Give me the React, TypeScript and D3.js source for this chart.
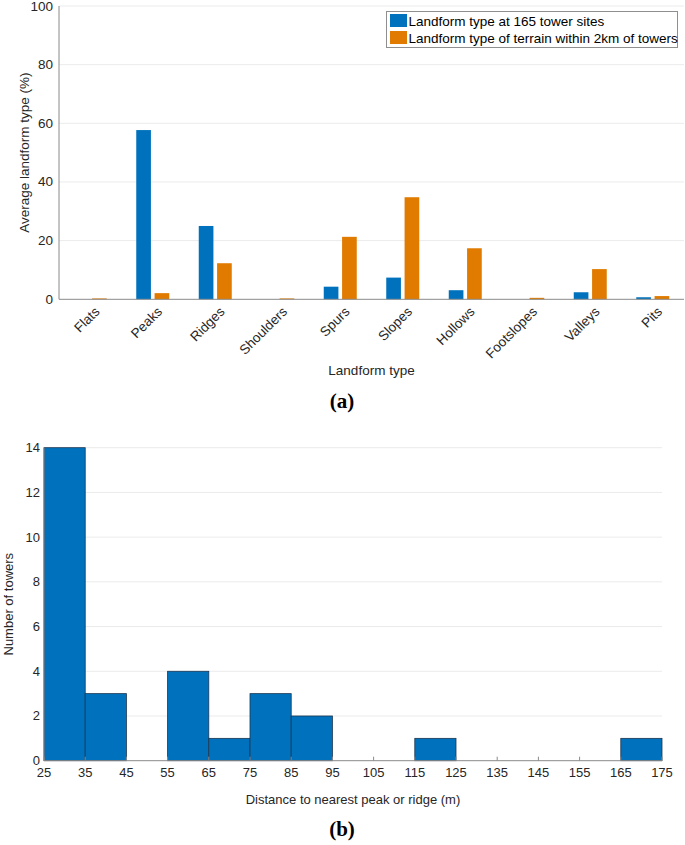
import * as d3 from 'd3';

const W = 685;
const H = 845;

// panel (a) data
const landforms = ['Flats', 'Peaks', 'Ridges', 'Shoulders', 'Spurs', 'Slopes', 'Hollows', 'Footslopes', 'Valleys', 'Pits'];
const towerSites = [0, 57.7, 25.0, 0, 4.3, 7.4, 3.1, 0, 2.4, 0.7];
const terrain2km = [0.3, 2.1, 12.3, 0.3, 21.3, 34.8, 17.4, 0.5, 10.3, 1.1];
const seriesNames = ['Landform type at 165 tower sites', 'Landform type of terrain within 2km of towers'];
const yTicksA = [0, 20, 40, 60, 80, 100];

// panel (b) data
const binStarts = [25, 35, 45, 55, 65, 75, 85, 95, 105, 115, 125, 135, 145, 155, 165];
const binCounts = [14, 3, 0, 4, 1, 3, 2, 0, 0, 1, 0, 0, 0, 0, 1];
const binWidth = 10;
const xTicksB = [25, 35, 45, 55, 65, 75, 85, 95, 105, 115, 125, 135, 145, 155, 165, 175];
const yTicksB = [0, 2, 4, 6, 8, 10, 12, 14];

const BLUE = '#0072BD';
const ORANGE = '#E07B00';
const FONT = '"Liberation Sans", Arial, Helvetica, sans-serif';
const TXT = '#262626';
const AXIS = '#8a8a8a';
const GRID = '#ebebeb';

const A = { left: 59, right: 684, top: 6, bottom: 299.3 };
const B = { left: 44, right: 662, top: 447.7, bottom: 760.7 };

const PanelA = () => {
  const x = d3.scaleBand().domain(landforms).range([A.left, A.right]).padding(0);
  const sub = d3.scaleBand().domain(['0', '1']).range([-16.5, 16.5]).paddingInner(0.2);
  const y = d3.scaleLinear().domain([0, 100]).range([A.bottom, A.top]);
  const cx = (c: string) => (x(c) as number) + x.bandwidth() / 2;

  return (
    <g>
      {yTicksA.map((t) => (
        <g key={t}>
          {t > 0 && <line x1={A.left} x2={A.right} y1={y(t)} y2={y(t)} stroke={GRID} strokeWidth={1} />}
          <text x={A.left - 6} y={y(t)} textAnchor="end" dominantBaseline="central" fontSize={13.5} fill={TXT}>
            {t}
          </text>
        </g>
      ))}
      {landforms.map((c, i) => (
        <g key={c}>
          {[towerSites[i], terrain2km[i]].map((v, j) =>
            v > 0 ? (
              <rect
                key={j}
                x={cx(c) + (sub(String(j)) as number)}
                y={y(v)}
                width={sub.bandwidth()}
                height={y(0) - y(v)}
                fill={j === 0 ? BLUE : ORANGE}
              />
            ) : null,
          )}
          <text
            transform={`translate(${cx(c) + 7},${A.bottom + 10}) rotate(-45)`}
            textAnchor="end"
            dominantBaseline="central"
            fontSize={13.5}
            fill={TXT}
          >
            {c}
          </text>
        </g>
      ))}
      <line x1={A.left} x2={A.left} y1={A.top} y2={A.bottom} stroke={AXIS} />
      <line x1={A.left} x2={A.right} y1={A.bottom} y2={A.bottom} stroke={AXIS} />
      <text
        transform={`translate(24,${(A.top + A.bottom) / 2}) rotate(-90)`}
        textAnchor="middle"
        dominantBaseline="central"
        fontSize={13.5}
        fill={TXT}
      >
        Average landform type (%)
      </text>
      <text x={(A.left + A.right) / 2} y={370} textAnchor="middle" dominantBaseline="central" fontSize={13.5} fill={TXT}>
        Landform type
      </text>
      {/* legend */}
      <rect x={386.5} y={11.5} width={291} height={36} fill="#fff" stroke="#8f8f8f" />
      {seriesNames.map((s, i) => (
        <g key={s}>
          <rect x={390} y={14 + i * 17} width={17} height={13} fill={i === 0 ? BLUE : ORANGE} />
          <text x={408.5} y={21 + i * 17} dominantBaseline="central" fontSize={13.5} fill="#000">
            {s}
          </text>
        </g>
      ))}
      <text x={342} y={401} textAnchor="middle" dominantBaseline="central" fontSize={21} fontWeight="bold" fontFamily='"Liberation Serif", "Times New Roman", serif'>
        (a)
      </text>
    </g>
  );
};

const PanelB = () => {
  const x = d3.scaleLinear().domain([25, 175]).range([B.left, B.right]);
  const y = d3.scaleLinear().domain([0, 14]).range([B.bottom, B.top]);

  return (
    <g>
      {yTicksB.map((t) => (
        <g key={t}>
          {t > 0 && <line x1={B.left} x2={B.right} y1={y(t)} y2={y(t)} stroke={GRID} strokeWidth={1} />}
          <text x={B.left - 4} y={y(t)} textAnchor="end" dominantBaseline="central" fontSize={13} fill={TXT}>
            {t}
          </text>
        </g>
      ))}
      {binStarts.map((s, i) =>
        binCounts[i] > 0 ? (
          <rect
            key={s}
            x={x(s)}
            y={y(binCounts[i])}
            width={x(s + binWidth) - x(s)}
            height={y(0) - y(binCounts[i])}
            fill={BLUE}
            stroke="#1c3550"
            strokeWidth={0.8}
          />
        ) : null,
      )}
      <line x1={B.left} x2={B.left} y1={B.top} y2={B.bottom} stroke={AXIS} />
      <line x1={B.left} x2={B.right} y1={B.bottom} y2={B.bottom} stroke={AXIS} />
      {xTicksB.map((t) => (
        <g key={t}>
          <line x1={x(t)} x2={x(t)} y1={B.bottom} y2={B.bottom - 4} stroke={AXIS} />
          <text x={x(t)} y={B.bottom + 12} textAnchor="middle" dominantBaseline="central" fontSize={13} fill={TXT}>
            {t}
          </text>
        </g>
      ))}
      <text
        transform={`translate(8,${(B.top + B.bottom) / 2}) rotate(-90)`}
        textAnchor="middle"
        dominantBaseline="central"
        fontSize={13}
        fill={TXT}
      >
        Number of towers
      </text>
      <text x={(B.left + B.right) / 2} y={799} textAnchor="middle" dominantBaseline="central" fontSize={13} fill={TXT}>
        Distance to nearest peak or ridge (m)
      </text>
      <text x={342} y={829} textAnchor="middle" dominantBaseline="central" fontSize={21} fontWeight="bold" fontFamily='"Liberation Serif", "Times New Roman", serif'>
        (b)
      </text>
    </g>
  );
};

export default function App() {
  return (
    <svg
      width={W}
      height={H}
      style={{ position: 'absolute', left: 0, top: 0, background: '#fff' }}
      fontFamily={FONT}
    >
      <rect width={W} height={H} fill="#fff" />
      <PanelA />
      <PanelB />
    </svg>
  );
}
